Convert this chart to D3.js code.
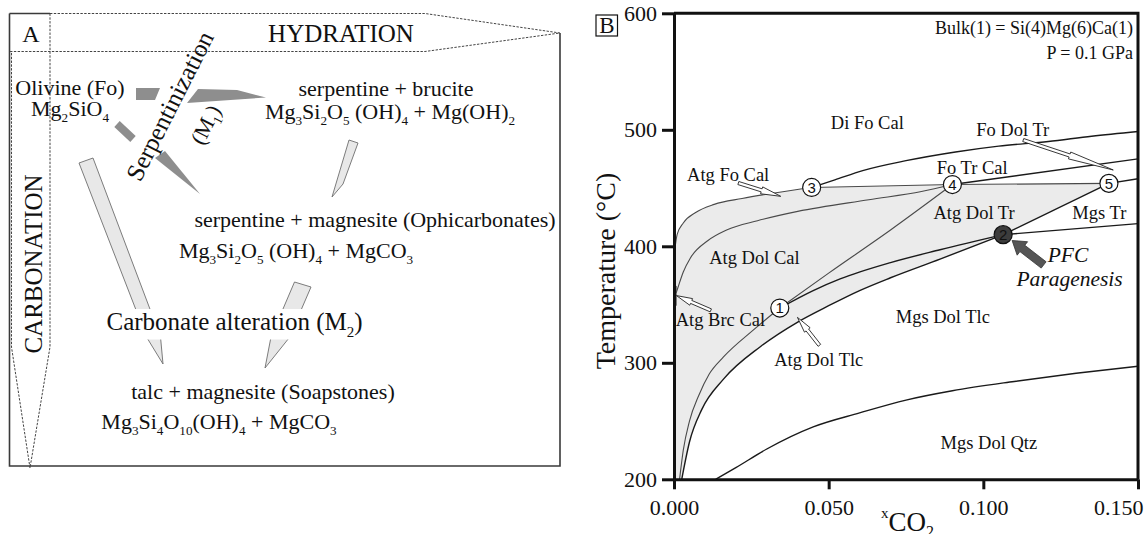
<!DOCTYPE html>
<html>
<head>
<meta charset="utf-8">
<script src="https://cdn.jsdelivr.net/npm/d3@7"></script>
<style>
  body { margin: 0; background: #fff; }
  svg { display: block; }
  text { font-family: "Liberation Serif", "Times New Roman", serif; fill: #111; }
</style>
</head>
<body>
<svg id="fig" width="1146" height="534"></svg>
<script>
// ---------------- Panel B: T–XCO2 section data ----------------
const xTickValues = [0, 0.05, 0.10, 0.15];
const yTickValues = [200, 300, 400, 500, 600];

// invariant points [XCO2, T °C]
const invariantPoints = [
  { id: "1", x: 0.0342, T: 347 },
  { id: "2", x: 0.1064, T: 410, pfc: true },
  { id: "3", x: 0.0445, T: 450.5 },
  { id: "4", x: 0.0900, T: 453 },
  { id: "5", x: 0.1406, T: 454 }
];

// univariant reaction curves, each as [XCO2, T °C]
const curveAtgFoCal   = [[0.0003,398],[0.001,410],[0.003,420],[0.007,429],[0.013,436],[0.022,441],[0.033,446],[0.0445,450.5]];
const curveAtgDolCal  = [[0.0007,360],[0.0012,364],[0.003,378],[0.0053,390],[0.011,405],[0.017,414],[0.027,422],[0.040,430],[0.063,440],[0.080,447],[0.090,453]];
const curveAtgBrcCal  = [[0.0007,366],[0.0007,349]];
const curveDolTlcIn   = [[0.0018,200],[0.003,225],[0.005,250],[0.008,272],[0.0113,290],[0.016,305],[0.0256,328],[0.0342,347]];
const curveAtgOut     = [[0.0025,200],[0.005,232],[0.009,260],[0.016,286],[0.028,314],[0.040,335],[0.050,349],[0.060,362],[0.070,373],[0.086,389],[0.1064,410]];
const curve1to2       = [[0.0342,347],[0.045,362],[0.0537,372],[0.070,386],[0.086,397],[0.1064,410]];
const curve1to4       = [[0.0342,347],[0.050,377],[0.070,414],[0.090,453]];
const curveDiFoCal    = [[0.0445,450.5],[0.052,457],[0.061,465],[0.075,473.5],[0.091,481],[0.105,486],[0.121,490],[0.135,494.5],[0.15,498.5]];
const curve3to4       = [[0.0445,450.5],[0.090,453]];
const curveFoTrCal    = [[0.090,453],[0.15,475]];
const curve4to5       = [[0.090,453],[0.1406,454]];
const curve5toEdge    = [[0.1406,454],[0.15,458]];
const curve2to5       = [[0.1064,410],[0.1406,454]];
const curveMgsTr      = [[0.1064,410],[0.15,419.5]];
const curveQtz        = [[0.0135,200],[0.02,210],[0.03,226],[0.045,245],[0.06,257],[0.075,268],[0.09,276],[0.11,284],[0.13,291],[0.15,297]];

// field names placed at [XCO2, T]
const fieldLabels = [
  { text: "Di Fo Cal",   x: 0.0625, T: 505.7 },
  { text: "Fo Dol Tr",   x: 0.1095, T: 499.5 },
  { text: "Fo Tr Cal",   x: 0.0964, T: 467 },
  { text: "Atg Fo Cal",  x: 0.0175, T: 461.3 },
  { text: "Atg Dol Tr",  x: 0.0970, T: 428.5 },
  { text: "Mgs Tr",      x: 0.1375, T: 428.5 },
  { text: "Atg Dol Cal", x: 0.0260, T: 389.8 },
  { text: "Atg Brc Cal", x: 0.0150, T: 336.4 },
  { text: "Mgs Dol Tlc", x: 0.0869, T: 339.2 },
  { text: "Atg Dol Tlc", x: 0.0468, T: 302.3 },
  { text: "Mgs Dol Qtz", x: 0.1018, T: 231.3 }
];

// pointer arrows: from [XCO2, T] to [XCO2, T]
const pointerArrows = [
  { from: [0.0208, 454.3], to: [0.0345, 442.9], head: 20 },
  { from: [0.1129, 491.2], to: [0.1420, 465.5], head: 46 },
  { from: [0.0119, 345.0], to: [0.0008, 357.7], head: 16 },
  { from: [0.0470, 315.0], to: [0.0399, 339.0], head: 16 }
];
const pfcArrow = { from: [0.1195, 384], to: [0.1093, 405] };

const bulkText = "Bulk(1) = Si(4)Mg(6)Ca(1)";
const pressureText = "P = 0.1 GPa";

// ---------------- Panel A: schematic texts ----------------
const hydrationTitle = "HYDRATION";
const carbonationTitle = "CARBONATION";
const olivineLines = ["Olivine (Fo)", "Mg_{2}SiO_{4}"];
const serpBrcLines = ["serpentine + brucite", "Mg_{3}Si_{2}O_{5} (OH)_{4} + Mg(OH)_{2}"];
const ophiLines = ["serpentine + magnesite (Ophicarbonates)", "Mg_{3}Si_{2}O_{5} (OH)_{4} + MgCO_{3}"];
const soapLines = ["talc + magnesite (Soapstones)", "Mg_{3}Si_{4}O_{10}(OH)_{4} + MgCO_{3}"];
const carbAlteration = "Carbonate alteration  (M_{2})";
const serpentinization = "Serpentinization";
const m1Label = "(M_{1})";

const svg = d3.select("#fig");
const serifFont = "'Liberation Serif', 'Times New Roman', serif";

// text with _{sub} and ^{sup} markup
function richText(g, str, size) {
  const t = g.append("text").attr("font-size", size);
  const parts = str.split(/(_\{[^}]*\}|\^\{[^}]*\})/);
  let shift = 0;
  parts.forEach(p => {
    if (!p) return;
    let m;
    if ((m = p.match(/^_\{(.*)\}$/))) {
      const d = size * 0.26;
      t.append("tspan").attr("dy", d - shift).attr("font-size", size * 0.6).text(m[1]);
      shift = d;
    } else if ((m = p.match(/^\^\{(.*)\}$/))) {
      const d = -size * 0.4;
      t.append("tspan").attr("dy", d - shift).attr("font-size", size * 0.6).text(m[1]);
      shift = d;
    } else {
      t.append("tspan").attr("dy", -shift).text(p);
      shift = 0;
    }
  });
  return t;
}

// ================= Panel A =================
const A = svg.append("g").attr("class", "panel-a");
const dash = "2.4,1.4";

// frame
A.append("path")
  .attr("d", "M9.5,13.5 L50,13.5 M9.5,13.5 L9.5,466 L560,466 L560,33")
  .attr("fill", "none").attr("stroke", "#3a3a3a").attr("stroke-width", 1.6);

// hydration arrow (dotted outline)
A.append("path")
  .attr("d", "M50,13.5 L425,13.5 L560,33 L425,51.5 L9.5,51.5")
  .attr("fill", "none").attr("stroke", "#444").attr("stroke-width", 1).attr("stroke-dasharray", dash);
// carbonation arrow (dotted outline)
A.append("path")
  .attr("d", "M50,13.5 L50,347 L30,468 L11.5,347 L11.5,51.5")
  .attr("fill", "none").attr("stroke", "#444").attr("stroke-width", 1).attr("stroke-dasharray", dash);

// serpentinization arrows (dark)
const darkFill = "#8e8e8e";
[
  "M136,88 L160,88 L155,100 L136,100 Z",
  "M198,89 L237,90 L266,97.5 L187,103 Z",
  "M119.7,121.1 L135.7,136.1 L130.3,141.9 L114.3,126.9 Z",
  "M155,158 L165,151 L200,194 Z"
].forEach(d => A.append("path").attr("d", d).attr("fill", darkFill));

// carbonate-alteration arrows (light)
[
  "M349,140 L358,143 L343,184 L332,197 Z",
  "M294.5,282 L311,287 L289,338 L265,368 L271,337 Z",
  "M79,163 L93,158 L160.5,337 L163,364 L146.5,337 Z"
].forEach(d => A.append("path").attr("d", d)
  .attr("fill", "#e8e8e8").attr("stroke", "#6e6e6e").attr("stroke-width", 0.9));

// titles
A.append("text").attr("x", 31).attr("y", 41.5).attr("text-anchor", "middle")
  .attr("font-size", 24).text("A");
A.append("text").attr("x", 341).attr("y", 42).attr("text-anchor", "middle")
  .attr("font-size", 25).text(hydrationTitle);
A.append("text").attr("transform", "translate(42,264) rotate(-90)")
  .attr("text-anchor", "middle").attr("font-size", 25).text(carbonationTitle);

// mineral assemblages
function block(lines, xs, ys, anchor, size) {
  lines.forEach((s, i) => {
    richText(A, s, size).attr("x", xs[i]).attr("y", ys[i]).attr("text-anchor", anchor);
  });
}
block(olivineLines, [70, 70], [95, 116], "middle", 22);
block(serpBrcLines, [386, 390], [96, 119], "middle", 22);
block(ophiLines, [375, 296], [227, 258], "middle", 22);
block(soapLines, [263, 219], [399, 429], "middle", 22);

// carbonate alteration label with a white backing that interrupts the arrows
const carb = richText(A, carbAlteration, 25).attr("x", 106.5).attr("y", 330);
const cb = carb.node().getBBox();
A.insert("rect", () => carb.node())
  .attr("x", cb.x - 2).attr("y", cb.y + 1).attr("width", cb.width + 4).attr("height", cb.height - 1)
  .attr("fill", "#fff");

// rotated process names
A.append("text").attr("transform", "translate(170,106) rotate(-63)")
  .attr("text-anchor", "middle").attr("dy", "0.33em").attr("font-size", 25).text(serpentinization);
richText(A, m1Label, 22).attr("transform", "translate(206,125) rotate(-63)")
  .attr("text-anchor", "middle").attr("y", 7);

// ================= Panel B =================
const B = svg.append("g").attr("class", "panel-b");
const x = d3.scaleLinear().domain([0, 0.15]).range([674, 1138]);
const y = d3.scaleLinear().domain([200, 600]).range([479.3, 13.3]);

const fillLayer = B.append("g");
const lineLayer = B.append("g");

const smooth = d3.line().x(d => x(d[0])).y(d => y(d[1])).curve(d3.curveMonotoneX);
const straight = d3.line().x(d => x(d[0])).y(d => y(d[1]));

function drawCurve(data, gen, color, width) {
  return lineLayer.append("path").attr("d", gen(data))
    .attr("fill", "none").attr("stroke", color).attr("stroke-width", width)
    .attr("stroke-linejoin", "round");
}

const strong = "#1a1a1a", soft = "#4a4a4a";
const pathO = drawCurve(curveAtgFoCal, smooth, soft, 1.1);
drawCurve(curveAtgDolCal, smooth, soft, 1.1);
drawCurve(curveAtgBrcCal, straight, soft, 1.0);
drawCurve(curveDolTlcIn, smooth, soft, 1.1);
const pathJ = drawCurve(curveAtgOut, smooth, strong, 1.4);
drawCurve(curve1to2, smooth, strong, 1.4);
drawCurve(curve1to4, smooth, soft, 1.1);
drawCurve(curveDiFoCal, smooth, strong, 1.4);
drawCurve(curve3to4, straight, soft, 1.1);
drawCurve(curveFoTrCal, straight, strong, 1.4);
drawCurve(curve4to5, straight, soft, 1.1);
drawCurve(curve5toEdge, straight, strong, 1.4);
drawCurve(curve2to5, straight, strong, 1.4);
drawCurve(curveMgsTr, straight, strong, 1.4);
drawCurve(curveQtz, smooth, strong, 1.4);

// shaded antigorite-bearing field
function sample(path, n) {
  const node = path.node(), L = node.getTotalLength();
  return d3.range(n + 1).map(i => { const p = node.getPointAtLength(L * i / n); return [p.x, p.y]; });
}
const oPts = sample(pathO, 80);
const jPts = sample(pathJ, 160).reverse();
const ptOf = id => invariantPoints.find(p => p.id === id);
const region = [[x(0), y(200)], [x(0), y(curveAtgFoCal[0][1])]]
  .concat(oPts)
  .concat([[x(ptOf("4").x), y(ptOf("4").T)], [x(ptOf("5").x), y(ptOf("5").T)], [x(ptOf("2").x), y(ptOf("2").T)]])
  .concat(jPts);
fillLayer.append("path").attr("d", "M" + region.map(p => p.join(",")).join("L") + "Z")
  .attr("fill", "#ebebeb");

// axes
const axL = d3.axisLeft(y).tickValues(yTickValues).tickSize(12).tickSizeOuter(0).tickPadding(5);
const axB = d3.axisBottom(x).tickValues(xTickValues).tickSize(10).tickSizeOuter(0).tickPadding(10)
  .tickFormat(d3.format(".3f"));
const gL = B.append("g").attr("transform", `translate(${x(0)},0)`).call(axL);
const gB = B.append("g").attr("transform", `translate(0,${y(200)})`).call(axB);
[gL, gB].forEach(g => {
  g.attr("font-family", null);
  g.select(".domain").attr("stroke", "#111").attr("stroke-width", 3);
  g.selectAll(".tick line").attr("stroke", "#111").attr("stroke-width", 3);
  g.selectAll(".tick text").style("font-family", serifFont).attr("font-size", 22).attr("fill", "#111");
});
gB.selectAll(".tick text").filter(d => d === 0.15).attr("text-anchor", "end").attr("x", 5);
// top and right frame
B.append("path").attr("d", `M${x(0)},${y(600)} L${x(0.15)},${y(600)} L${x(0.15)},${y(200)}`)
  .attr("fill", "none").attr("stroke", "#111").attr("stroke-width", 3);

// axis titles
B.append("text").attr("transform", "translate(615,271) rotate(-90)")
  .attr("text-anchor", "middle").attr("font-size", 28).text("Temperature (°C)");
const xt = B.append("text").attr("x", 881).attr("y", 531).attr("font-size", 27);
xt.append("tspan").attr("font-size", 15).attr("dy", -13).text("x");
xt.append("tspan").attr("dy", 13).text("CO");
xt.append("tspan").attr("font-size", 16).attr("dy", 6).text("2");

// panel letter
B.append("rect").attr("x", 596).attr("y", 15).attr("width", 21.5).attr("height", 21)
  .attr("fill", "none").attr("stroke", "#111").attr("stroke-width", 1.2);
B.append("text").attr("x", 606.8).attr("y", 33).attr("text-anchor", "middle").attr("font-size", 23).text("B");

// bulk composition / pressure
B.append("text").attr("x", 1133).attr("y", 34).attr("text-anchor", "end").attr("font-size", 18).text(bulkText);
B.append("text").attr("x", 1133).attr("y", 59).attr("text-anchor", "end").attr("font-size", 18).text(pressureText);

// field names
B.selectAll("text.field").data(fieldLabels).join("text").attr("class", "field")
  .attr("x", d => x(d.x)).attr("y", d => y(d.T) + 6).attr("text-anchor", "middle")
  .attr("font-size", 18.5).text(d => d.text);

// pointer arrows (open outline)
function arrowPoly(x0, y0, x1, y1, hw, sw, hl) {
  const dx = x1 - x0, dy = y1 - y0, L = Math.hypot(dx, dy);
  const ux = dx / L, uy = dy / L, nx = -uy, ny = ux;
  const P = (a, b) => [x0 + ux * a + nx * b, y0 + uy * a + ny * b];
  const pts = [P(0, -sw), P(L - hl, -sw), P(L - hl, -hw), P(L, 0), P(L - hl, hw), P(L - hl, sw), P(0, sw)];
  return "M" + pts.map(p => p.join(",")).join("L") + "Z";
}
pointerArrows.forEach(a => {
  B.append("path")
    .attr("d", arrowPoly(x(a.from[0]), y(a.from[1]), x(a.to[0]), y(a.to[1]), 3.6, 1.6, a.head))
    .attr("fill", "#fff").attr("stroke", "#222").attr("stroke-width", 0.9);
});
B.append("path")
  .attr("d", arrowPoly(x(pfcArrow.from[0]), y(pfcArrow.from[1]), x(pfcArrow.to[0]), y(pfcArrow.to[1]), 8.5, 4, 13))
  .attr("fill", "#555").attr("stroke", "#333").attr("stroke-width", 0.8);

// invariant points
const nodeG = B.selectAll("g.node").data(invariantPoints).join("g").attr("class", "node")
  .attr("transform", d => `translate(${x(d.x)},${y(d.T)})`);
nodeG.append("circle").attr("r", 9)
  .attr("fill", d => d.pfc ? "#3c3c3c" : "#fff").attr("stroke", "#111").attr("stroke-width", 1.2);
nodeG.append("text").attr("text-anchor", "middle").attr("dy", "0.36em")
  .style("font-family", "'Liberation Sans', Arial, sans-serif").attr("font-size", 15)
  .attr("fill", d => d.pfc ? "#b8b8b8" : "#111").text(d => d.id);

// PFC paragenesis note
B.append("text").attr("x", x(0.1208)).attr("y", 262).attr("font-style", "italic").attr("font-size", 21.5).text("PFC");
B.append("text").attr("x", x(0.1107)).attr("y", 286).attr("font-style", "italic").attr("font-size", 21.5).text("Paragenesis");
</script>
</body>
</html>
